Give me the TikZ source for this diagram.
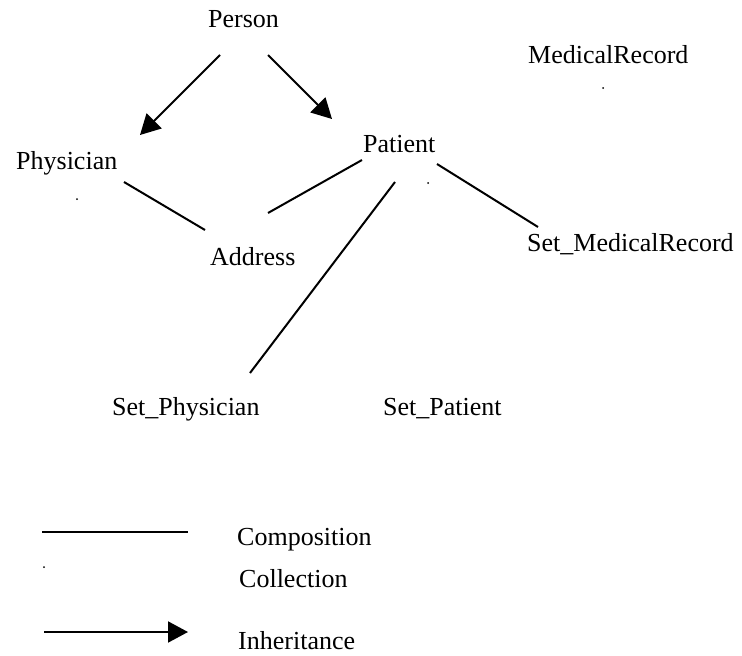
\documentclass[tikz,border=0pt]{standalone}
\usepackage{fontspec}
\setmainfont{Liberation Serif}
\usetikzlibrary{arrows.meta,calc}

\begin{document}
\begin{tikzpicture}[x=1pt,y=-1pt,
  label/.style={anchor=base west,inner sep=0pt,font=\fontsize{26}{30}\selectfont},
  comp/.style={line width=2pt},
  inherit/.style={line width=2pt,-{Triangle[length=20pt,width=21pt]}},
  coll/.style={fill=black}]
  \useasboundingbox (0,0) rectangle (742,656);

  % classes
  \node[label] (person)   at (208,27)  {Person};
  \node[label] (medrec)   at (528,63)  {MedicalRecord};
  \node[label] (patient)  at (363,152) {Patient};
  \node[label] (phys)     at (16,169)  {Physician};
  \node[label] (addr)     at (210,265) {Address};
  \node[label] (setmed)   at (527,251) {Set\_MedicalRecord};
  \node[label] (setphys)  at (112,415) {Set\_Physician};
  \node[label] (setpat)   at (383,415) {Set\_Patient};

  % inheritance
  \draw[inherit] ([shift={(12,28)}]person.base west) -- ([shift={(124,-34)}]phys.base west);
  \draw[inherit] ([shift={(60,28)}]person.base west) -- ([shift={(-31,-33)}]patient.base west);

  % composition
  \draw[comp] ([shift={(108,13)}]phys.base west) -- ([shift={(-5,-35)}]addr.base west);
  \draw[comp] ([shift={(58,-52)}]addr.base west) -- ([shift={(-1,8)}]patient.base west);
  \draw[comp] ([shift={(32,30)}]patient.base west) -- ([shift={(138,-42)}]setphys.base west);
  \draw[comp] ([shift={(74,12)}]patient.base west) -- ([shift={(11,-24)}]setmed.base west);

  % collection marks
  \fill[coll] ([shift={(61,30)}]phys.base west) circle (1pt);
  \fill[coll] ([shift={(65,31)}]patient.base west) circle (1pt);
  \fill[coll] ([shift={(75,25)}]medrec.base west) circle (1pt);

  % legend
  \coordinate (c1) at (42,532);
  \coordinate (c2) at (188,532);
  \draw[comp] (c1) -- (c2);
  \node[label] (lcomp) at (237,545) {Composition};
  \fill[coll] (44,567) circle (1pt);
  \node[label] (lcoll) at (239,587) {Collection};
  \coordinate (i1) at (44,632);
  \coordinate (i2) at (188,632);
  \draw[inherit] (i1) -- (i2);
  \node[label] (linh) at (238,649) {Inheritance};
\end{tikzpicture}
\end{document}
